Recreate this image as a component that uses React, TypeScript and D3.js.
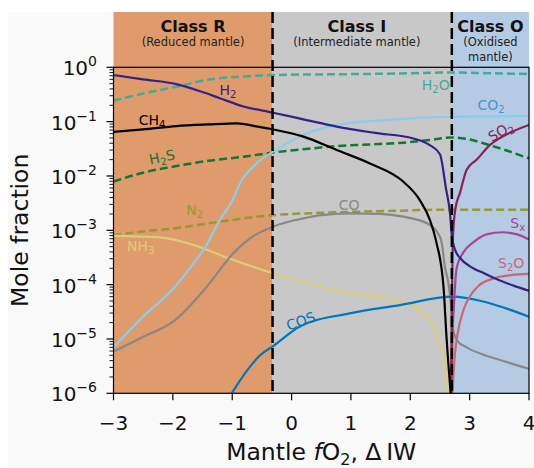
import * as d3 from 'd3';

const h2X = [-3, -2.5, -1.94, -1.5, -1.21, -0.81, -0.31, 0.2, 0.76, 1.4, 2.05, 2.33, 2.5, 2.6, 2.67, 2.7, 2.75, 2.85, 3.0, 3.25, 3.5, 3.75, 4.0];
const h2Y = [0.72, 0.6, 0.49, 0.35, 0.27, 0.19, 0.146, 0.11, 0.081, 0.062, 0.049, 0.037, 0.025, 6e-3, 2e-3, 8e-4, 4.5e-4, 3e-4, 2.2e-4, 1.6e-4, 1.2e-4, 9.5e-5, 7.7e-5];

const h2oX = [-3, -2.5, -1.94, -1.37, -0.8, -0.31, 0.5, 1.5, 2.7, 3.3, 4.0];
const h2oY = [0.243, 0.33, 0.44, 0.6, 0.68, 0.72, 0.74, 0.76, 0.8, 0.78, 0.75];

const ch4X = [-3, -2.5, -1.94, -1.4, -0.92, -0.6, -0.31, 0.2, 0.76, 1.32, 1.88, 2.16, 2.33, 2.44, 2.56, 2.61, 2.68];
const ch4Y = [0.065, 0.072, 0.083, 0.089, 0.093, 0.082, 0.072, 0.053, 0.03, 0.017, 7.9e-3, 3.6e-3, 1.55e-3, 6e-4, 9e-5, 1.1e-5, 1e-6];

const co2X = [-3, -2.5, -1.99, -1.7, -1.43, -1.21, -1.0, -0.87, -0.59, -0.31, 0.2, 0.76, 1.6, 2.67, 4.0];
const co2Y = [7e-6, 2.6e-5, 8.5e-5, 2.1e-4, 5.4e-4, 1.55e-3, 3.5e-3, 7.3e-3, 0.017, 0.028, 0.057, 0.087, 0.107, 0.123, 0.127];

const coX = [-3, -2.5, -1.99, -1.43, -0.98, -0.7, -0.31, 0.2, 0.5, 0.98, 1.5, 1.88, 2.28, 2.5, 2.54, 2.58, 2.64, 2.68, 2.72, 2.8, 2.95, 3.26, 3.51, 4.0];
const coY = [5.8e-6, 1.1e-5, 2.1e-5, 9.1e-5, 3.8e-4, 7.1e-4, 1.17e-3, 1.66e-3, 1.9e-3, 2.05e-3, 2e-3, 1.78e-3, 1.35e-3, 7.6e-4, 5e-4, 2.2e-4, 1.1e-4, 5e-5, 1.5e-5, 9e-6, 7e-6, 5e-6, 4.1e-6, 2.8e-6];

const h2sX = [-3, -2.5, -1.94, -1.4, -0.81, -0.31, 0.2, 0.76, 1.3, 1.88, 2.33, 2.67, 3.0, 3.23, 3.6, 4.0];
const h2sY = [7.9e-3, 0.0115, 0.0152, 0.019, 0.0226, 0.027, 0.031, 0.0355, 0.038, 0.041, 0.046, 0.051, 0.047, 0.04, 0.03, 0.021];

const n2X = [-3, -2.5, -1.94, -1.21, -0.31, 0.5, 1.5, 2.7, 4.0];
const n2Y = [8.2e-4, 9.5e-4, 1.1e-3, 1.44e-3, 1.9e-3, 2.1e-3, 2.25e-3, 2.4e-3, 2.4e-3];

const nh3X = [-3, -2.22, -1.66, -1.04, -0.31, 0.7, 1.83, 2.16, 2.39, 2.5, 2.58, 2.64];
const nh3Y = [7.9e-4, 7.4e-4, 5.4e-4, 3e-4, 1.62e-4, 7.9e-5, 4.9e-5, 3.4e-5, 1.7e-5, 7.3e-6, 4e-6, 1e-6];

const cosX = [-1.01, -0.7, -0.53, -0.31, 0.14, 0.98, 1.83, 2.7, 3.23, 3.6, 4.0];
const cosY = [1e-6, 3.1e-6, 5e-6, 7.4e-6, 1.7e-5, 2.96e-5, 4.2e-5, 6e-5, 4.9e-5, 3.7e-5, 2.57e-5];

const so2X = [2.685, 2.695, 2.705, 2.72, 2.76, 2.84, 2.95, 3.12, 3.34, 3.51, 3.75, 4.0];
const so2Y = [1e-6, 1e-5, 1e-4, 8e-4, 2.5e-3, 5e-3, 0.013, 0.02, 0.037, 0.05, 0.068, 0.087];

const sxX = [2.69, 2.71, 2.74, 2.78, 2.9, 3.06, 3.3, 3.55, 3.8, 4.0];
const sxY = [1e-6, 1e-5, 5e-5, 2e-4, 4e-4, 6e-4, 8.5e-4, 9.2e-4, 8.4e-4, 6.8e-4];

const s2oX = [2.71, 2.75, 2.8, 2.9, 3.0, 3.15, 3.4, 3.7, 4.0];
const s2oY = [1e-6, 5e-6, 1.3e-5, 3.5e-5, 6e-5, 9.5e-5, 1.3e-4, 1.5e-4, 1.58e-4];

const series = [
  { id: 'H2O', xs: h2oX, ys: h2oY, color: '#44AA99', dashed: true },
  { id: 'N2', xs: n2X, ys: n2Y, color: '#999933', dashed: true },
  { id: 'H2S', xs: h2sX, ys: h2sY, color: '#117733', dashed: true },
  { id: 'NH3', xs: nh3X, ys: nh3Y, color: '#DDCC77', dashed: false },
  { id: 'CO', xs: coX, ys: coY, color: '#888888', dashed: false },
  { id: 'CO2', xs: co2X, ys: co2Y, color: '#88CCEE', dashed: false },
  { id: 'COS', xs: cosX, ys: cosY, color: '#0077BB', dashed: false },
  { id: 'S2O', xs: s2oX, ys: s2oY, color: '#CC6677', dashed: false },
  { id: 'Sx', xs: sxX, ys: sxY, color: '#AA4499', dashed: false },
  { id: 'SO2', xs: so2X, ys: so2Y, color: '#882255', dashed: false },
  { id: 'CH4', xs: ch4X, ys: ch4Y, color: '#000000', dashed: false },
  { id: 'H2', xs: h2X, ys: h2Y, color: '#332288', dashed: false },
];

// segments alternate normal / subscript
const labels = [
  { parts: ['H', '2'], x: -1.07, y: 0.37, color: '#332288', rot: 0 },
  { parts: ['CH', '4'], x: -2.35, y: 0.103, color: '#000000', rot: 0 },
  { parts: ['H', '2', 'S'], x: -2.18, y: 0.0214, color: '#117733', rot: -12 },
  { parts: ['N', '2'], x: -1.63, y: 2.26e-3, color: '#999933', rot: 0 },
  { parts: ['NH', '3'], x: -2.54, y: 4.9e-4, color: '#DDCC77', rot: 0 },
  { parts: ['CO'], x: 0.97, y: 2.8e-3, color: '#888888', rot: 0 },
  { parts: ['COS'], x: 0.16, y: 2.05e-5, color: '#0077BB', rot: -20 },
  { parts: ['H', '2', 'O'], x: 2.43, y: 0.45, color: '#44AA99', rot: 0 },
  { parts: ['CO', '2'], x: 3.36, y: 0.193, color: '#4499CC', rot: 0 },
  { parts: ['SO', '2'], x: 3.53, y: 0.064, color: '#882255', rot: -30 },
  { parts: ['S', 'x'], x: 3.81, y: 1.3e-3, color: '#AA4499', rot: 0 },
  { parts: ['S', '2', 'O'], x: 3.7, y: 2.4e-4, color: '#CC6677', rot: 0 },
];

const classBounds = [-3, -0.32, 2.7, 4];
const classColors = ['#E09B6D', '#C8C8C8', '#B4CBE3'];
const classNames = ['Class R', 'Class I', 'Class O'];
const classSubs = [['(Reduced mantle)'], ['(Intermediate mantle)'], ['(Oxidised', 'mantle)']];
const classCenters = [-1.66, 1.1, 3.35];

const xTicks = [-3, -2, -1, 0, 1, 2, 3, 4];
const yExponents = [0, -1, -2, -3, -4, -5, -6];

const FONT = 'DejaVu Sans, sans-serif';

function ChemLabel({ parts, x, y, color, rot, size = 14 }) {
  const shift = size * 0.3;
  return (
    <text
      x={x}
      y={y}
      fill={color}
      fontSize={size}
      textAnchor="middle"
      dominantBaseline="middle"
      transform={rot ? `rotate(${rot},${x},${y})` : undefined}
    >
      {parts.map((p, i) => {
        const isSub = i % 2 === 1;
        const dy = isSub ? shift : i > 0 ? -shift : 0;
        return (
          <tspan key={i} dy={dy} fontSize={isSub ? size * 0.72 : size}>{p}</tspan>
        );
      })}
    </text>
  );
}

export default function App() {
  const left = 113.5;
  const right = 529;
  const top = 67.3;
  const bottom = 393.3;
  const headerTop = 12;

  const x = d3.scaleLinear().domain([-3, 4]).range([left, right]);
  const y = d3.scaleLog().domain([1e-6, 1]).range([bottom, top]);

  const pathFor = (xs, ys) =>
    d3.line<number>()
      .x((d) => x(d))
      .y((_, i) => y(ys[i]))
      .curve(d3.curveMonotoneX)(xs);

  const minorTicks = [];
  for (let e = -6; e < 0; e++) {
    for (let k = 2; k <= 9; k++) minorTicks.push(k * Math.pow(10, e));
  }

  return (
    <svg
      width={534}
      height={468}
      style={{ position: 'absolute', left: 0, top: 0, fontFamily: FONT }}
    >
      <rect x={0} y={0} width={534} height={468} fill="#ffffff" />
      <rect x={8} y={12} width={526} height={456} fill="#f9f9f9" />
      <defs>
        <clipPath id="plot-clip">
          <rect x={left} y={top} width={right - left} height={bottom - top} />
        </clipPath>
      </defs>

      {classColors.map((c, i) => (
        <rect
          key={i}
          x={x(classBounds[i])}
          y={headerTop}
          width={x(classBounds[i + 1]) - x(classBounds[i])}
          height={bottom - headerTop}
          fill={c}
        />
      ))}

      {classNames.map((name, i) => (
        <g key={name}>
          <text x={x(classCenters[i])} y={31.5} textAnchor="middle" fontSize={16} fontWeight="bold" fill="#111">
            {name}
          </text>
          {classSubs[i].map((s, j) => (
            <text key={j} x={x(classCenters[i])} y={46 + j * 15} textAnchor="middle" fontSize={11.5} fill="#222">
              {s}
            </text>
          ))}
        </g>
      ))}

      <g clipPath="url(#plot-clip)">
        {series.map((s) => (
          <path
            key={s.id}
            d={pathFor(s.xs, s.ys)}
            fill="none"
            stroke={s.color}
            strokeWidth={s.dashed ? 2.5 : 2.2}
            strokeDasharray={s.dashed ? '8 4' : undefined}
          />
        ))}
      </g>

      {[classBounds[1], classBounds[2]].map((b) => (
        <line key={b} x1={x(b)} x2={x(b)} y1={headerTop} y2={bottom} stroke="#000" strokeWidth={2.5} strokeDasharray="11 5" />
      ))}

      <rect x={left} y={top} width={right - left} height={bottom - top} fill="none" stroke="#000" strokeWidth={1.2} />

      {yExponents.map((e) => (
        <g key={e}>
          <line x1={left - 7} x2={left} y1={y(Math.pow(10, e))} y2={y(Math.pow(10, e))} stroke="#000" strokeWidth={1.2} />
          <text x={97} y={y(Math.pow(10, e)) + 8} textAnchor="end" fontSize={20} fill="#111">
            <tspan>10</tspan>
            <tspan dy={-9} fontSize={14}>{e === 0 ? '0' : `\u2212${-e}`}</tspan>
          </text>
        </g>
      ))}
      {minorTicks.map((v) => (
        <line key={v} x1={left - 4} x2={left} y1={y(v)} y2={y(v)} stroke="#000" strokeWidth={0.9} />
      ))}

      {xTicks.map((t) => (
        <g key={t}>
          <line x1={x(t)} x2={x(t)} y1={bottom} y2={bottom + 7} stroke="#000" strokeWidth={1.2} />
          <text x={x(t)} y={430} textAnchor="middle" fontSize={20} fill="#111">
            {t < 0 ? `\u2212${-t}` : `${t}`}
          </text>
        </g>
      ))}

      <text x={(left + right) / 2} y={460} textAnchor="middle" fontSize={23.5} fill="#111">
        <tspan>Mantle </tspan>
        <tspan fontStyle="italic">f</tspan>
        <tspan>O</tspan>
        <tspan dy={5} fontSize={16}>2</tspan>
        <tspan dy={-5}>, Δ{'\u2009'}IW</tspan>
      </text>

      <text
        x={28}
        y={(top + bottom) / 2}
        textAnchor="middle"
        fontSize={23.5}
        fill="#111"
        transform={`rotate(-90,28,${(top + bottom) / 2})`}
      >
        Mole fraction
      </text>

      {labels.map((l, i) => (
        <ChemLabel key={i} parts={l.parts} x={x(l.x)} y={y(l.y)} color={l.color} rot={l.rot} />
      ))}
    </svg>
  );
}
